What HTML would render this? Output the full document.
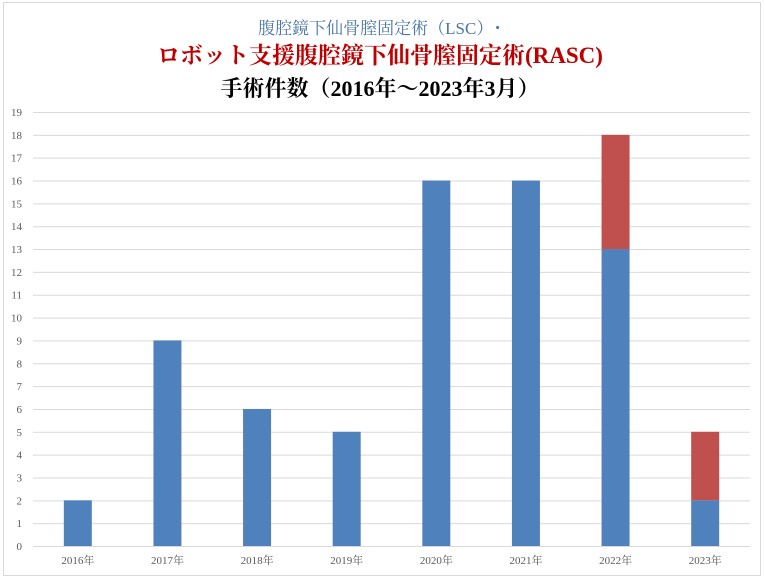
<!DOCTYPE html>
<html><head><meta charset="utf-8"><style>
body{margin:0;background:#fff;}
svg{display:block;font-family:"Liberation Serif","Noto Serif CJK SC",serif;}
</style></head><body>
<svg id="chart" width="765" height="579">
<rect x="3.5" y="2.5" width="757" height="573" fill="#fff" stroke="#d9d9d9"/>
<text x="380" y="34" text-anchor="middle" font-size="17" fill="#4a76a8">腹腔鏡下仙骨膣固定術（LSC）･</text>
<text x="380" y="63" text-anchor="middle" font-size="23" font-weight="bold" fill="#c00000">ロボット支援腹腔鏡下仙骨膣固定術(RASC)</text>
<text x="380" y="96" text-anchor="middle" font-size="22" font-weight="bold" fill="#000">手術件数（2016年～2023年3月）</text>
<g id="grid"></g><g id="bars"></g><g id="labels"></g>
</svg>
<script>
const categories=["2016年","2017年","2018年","2019年","2020年","2021年","2022年","2023年"];
const lscValues=[2,9,6,5,16,16,13,2];
const rascValues=[0,0,0,0,0,0,5,3];
const yTicks=[0,1,2,3,4,5,6,7,8,9,10,11,12,13,14,15,16,17,18,19];
const NS="http://www.w3.org/2000/svg";
const x0=33,x1=750,y0=546,y1=112,yMax=19;
const y=v=>y0-(y0-y1)*v/yMax;
const band=(x1-x0)/categories.length;
const xc=i=>x0+band*(i+0.5);
const bw=28;
const grid=document.getElementById('grid'),bars=document.getElementById('bars'),labels=document.getElementById('labels');
function mk(t,a){const e=document.createElementNS(NS,t);for(const k in a)e.setAttribute(k,a[k]);return e;}
yTicks.forEach(t=>{
 const l=mk('line',{x1:x0,x2:x1,y1:y(t)+0.5,y2:y(t)+0.5,stroke:'#d9d9d9','stroke-width':1});
 
 
 grid.appendChild(l);
 const tx=mk('text',{x:22,y:y(t)+4,'text-anchor':'end','font-size':11,fill:'#595959'});
 tx.textContent=t;
 
 
 labels.appendChild(tx);
});
categories.forEach((c,i)=>{
 const a=lscValues[i],b=rascValues[i];
 const r1=mk('rect',{x:xc(i)-bw/2,y:y(a),width:bw,height:y(0)-y(a),fill:'#4f81bd'});
 
 
 bars.appendChild(r1);
 if(b>0){
  const r2=mk('rect',{x:xc(i)-bw/2,y:y(a+b),width:bw,height:y(a)-y(a+b),fill:'#c0504d'});
  
  
  bars.appendChild(r2);
 }
 const tx=mk('text',{x:xc(i),y:564,'text-anchor':'middle','font-size':11,fill:'#595959'});
 tx.textContent=c;
 
 
 labels.appendChild(tx);
});
</script>
</body></html>
